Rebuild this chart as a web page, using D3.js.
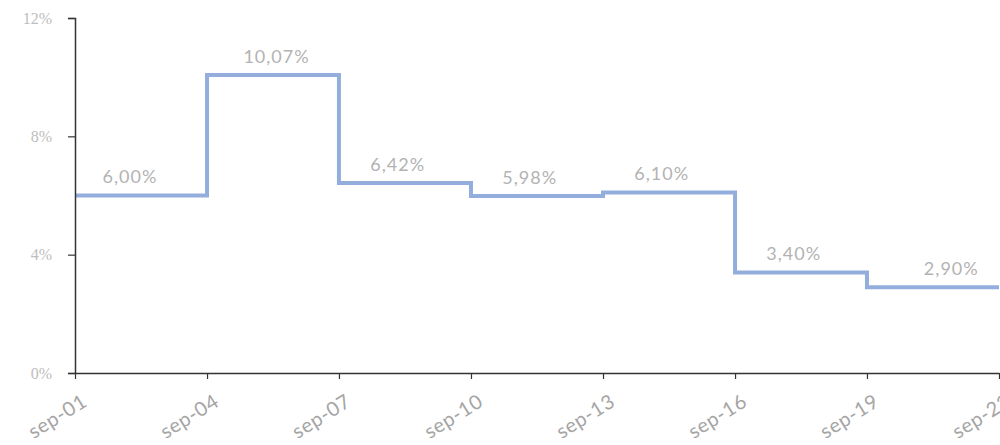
<!DOCTYPE html>
<html>
<head>
<meta charset="utf-8">
<script src="https://cdn.jsdelivr.net/npm/d3@7"></script>
<style>
  html, body { margin: 0; padding: 0; background: #fff; }
  svg { display: block; }
</style>
</head>
<body>
<svg id="chart" width="1000" height="445"></svg>
<script>
// Rate level for each three-year period, starting at each September
const periodStarts = ["2001-09", "2004-09", "2007-09", "2010-09", "2013-09", "2016-09", "2019-09"];
const periodEnd = "2022-09";
const rates = [6.00, 10.07, 6.42, 5.98, 6.10, 3.40, 2.90];
const rateLabels = ["6,00%", "10,07%", "6,42%", "5,98%", "6,10%", "3,40%", "2,90%"];
// Month at which each period's value label is centred
const labelAt = ["2002-12", "2006-04", "2009-01", "2012-01", "2015-01", "2018-01", "2021-08"];

// Axis ticks
const yTicks = [0, 4, 8, 12];
const yTickLabels = ["0%", "4%", "8%", "12%"];
const xTicks = ["2001-09", "2004-09", "2007-09", "2010-09", "2013-09", "2016-09", "2019-09", "2022-09"];
const xTickLabels = ["sep-01", "sep-04", "sep-07", "sep-10", "sep-13", "sep-16", "sep-19", "sep-22"];

const parse = d3.timeParse("%Y-%m");
const svg = d3.select("#chart");

const x = d3.scaleTime()
  .domain([parse(periodStarts[0]), parse(periodEnd)])
  .range([75, 999]);
const y = d3.scaleLinear()
  .domain([0, 12])
  .range([373, 18]);

const points = periodStarts.map((d, i) => ({ date: parse(d), value: rates[i] }));
points.push({ date: parse(periodEnd), value: rates[rates.length - 1] });

// Step line
const line = d3.line()
  .x(d => x(d.date))
  .y(d => y(d.value))
  .curve(d3.curveStepAfter);

svg.append("path")
  .datum(points)
  .attr("fill", "none")
  .attr("stroke", "#93aedd")
  .attr("stroke-width", 4)
  .attr("d", line);

// Value labels above each period
svg.append("g")
  .selectAll("text")
  .data(rateLabels)
  .join("text")
  .attr("x", (d, i) => x(parse(labelAt[i])))
  .attr("y", (d, i) => y(rates[i]) - 17)
  .attr("text-anchor", "middle")
  .attr("dominant-baseline", "middle")
  .attr("font-family", "Lato, 'Open Sans', sans-serif")
  .attr("font-size", 18)
  .attr("letter-spacing", 1)
  .attr("fill", "#b3b3b3")
  .text(d => d);

// Y axis
const yAxis = d3.axisLeft(y)
  .tickValues(yTicks)
  .tickFormat((d, i) => yTickLabels[i])
  .tickSize(7)
  .tickPadding(16);

const gy = svg.append("g")
  .attr("transform", "translate(75,0)")
  .call(yAxis);
gy.select(".domain").attr("stroke", "#333").attr("stroke-width", 1.5);
gy.selectAll(".tick line").attr("stroke", "#333").attr("stroke-width", 1.2);
gy.selectAll(".tick text")
  .attr("font-family", "'Liberation Serif', serif")
  .attr("font-size", 16)
  .attr("fill", "#bdbdbd");

// X axis
const xAxis = d3.axisBottom(x)
  .tickValues(xTicks.map(parse))
  .tickFormat((d, i) => xTickLabels[i])
  .tickSize(6)
  .tickSizeOuter(0);

const gx = svg.append("g")
  .attr("transform", "translate(0,373)")
  .call(xAxis);
gx.select(".domain").attr("stroke", "#333").attr("stroke-width", 1.5);
gx.selectAll(".tick line").attr("stroke", "#333").attr("stroke-width", 1.2);
gx.selectAll(".tick text")
  .attr("font-family", "Lato, 'Open Sans', sans-serif")
  .attr("font-size", 20)
  .attr("letter-spacing", 0.6)
  .attr("fill", "#a5a5a5")
  .attr("text-anchor", "end")
  .attr("dy", null)
  .attr("y", 0)
  .attr("transform", "translate(13,32) rotate(-32)");
</script>
</body>
</html>
